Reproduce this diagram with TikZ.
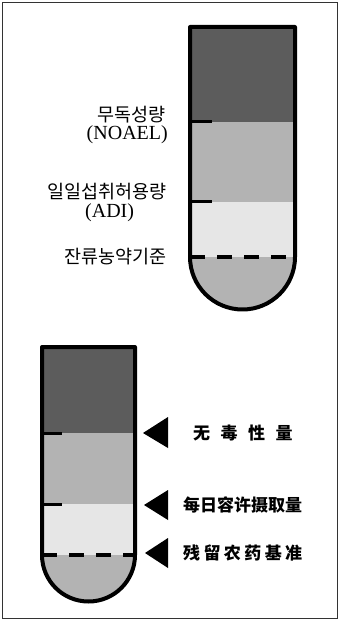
\documentclass[tikz,border=0pt]{standalone}
\usepackage{fontspec}
\setmainfont{Liberation Serif}
\newfontfamily\kor{Noto Sans CJK KR}
\newfontfamily\chn{Noto Sans CJK SC}
\definecolor{darkband}{HTML}{5C5C5C}
\definecolor{midband}{HTML}{B3B3B3}
\definecolor{lightband}{HTML}{E6E6E6}
\definecolor{framecol}{HTML}{333333}
\tikzset{
  wall/.style={line width=4pt, black, line join=round},
  tick/.style={line width=3pt, black},
  levelline/.style={line width=3.5pt, black, dash pattern=on 15pt off 12pt},
  korlabel/.style={inner sep=0pt, font=\kor\fontsize{18.5}{20}\selectfont},
  latlabel/.style={inner sep=0pt, font=\fontsize{20}{21}\selectfont},
  chnlabel/.style={inner sep=0pt, font=\chn\bfseries\fontsize{17}{18}\selectfont},
  pointer/.style={fill=black},
}
\begin{document}
\begin{tikzpicture}[x=1pt,y=-1pt]
\useasboundingbox (0,0) rectangle (339,620);
\draw[framecol, line width=1.5pt] (2.5,2.5) rectangle (337.5,618.5);

% ---- top tube ----
\def\tubeA{(190,27) -- (190,257) arc[start angle=180,end angle=0,radius=52.5] -- (295,27) -- cycle}
\begin{scope}
\clip \tubeA;
\fill[darkband] (185,20) rectangle (300,122);
\fill[midband] (185,122) rectangle (300,202);
\fill[lightband] (185,202) rectangle (300,257);
\fill[midband] (185,257) rectangle (300,320);
\end{scope}
\draw[wall] \tubeA;
\coordinate (a1s) at (188,122); \coordinate (a1e) at (212,122);
\coordinate (a2s) at (188,202); \coordinate (a2e) at (212,202);
\draw[tick] (a1s) -- (a1e);
\draw[tick] (a2s) -- (a2e);
\coordinate (a3s) at (190,257); \coordinate (a3e) at (295,257);
\draw[levelline] (a3s) -- (a3e);

\node[korlabel, anchor=east] (k1) at (166,114.5) {무독성량};
\node[latlabel, anchor=east] (k1b) at (168,135) {(NOAEL)};
\node[korlabel, anchor=east] (k2) at (167,192) {일일섭취허용량};
\node[latlabel, anchor=west] (k2b) at (85,213) {(ADI)};
\node[korlabel, anchor=east] (k3) at (167,257) {잔류농약기준};

% ---- bottom tube ----
\def\tubeB{(42,347) -- (42,555) arc[start angle=180,end angle=0,radius=46.5] -- (135,347) -- cycle}
\begin{scope}
\clip \tubeB;
\fill[darkband] (35,340) rectangle (140,433);
\fill[midband] (35,433) rectangle (140,504);
\fill[lightband] (35,504) rectangle (140,555);
\fill[midband] (35,555) rectangle (140,610);
\end{scope}
\draw[wall] \tubeB;
\coordinate (b1s) at (40,433); \coordinate (b1e) at (62,433);
\coordinate (b2s) at (40,504); \coordinate (b2e) at (62,504);
\draw[tick] (b1s) -- (b1e);
\draw[tick] (b2s) -- (b2e);
\coordinate (b3s) at (42,555); \coordinate (b3e) at (135,555);
\draw[levelline] (b3s) -- (b3e);

% pointers
\fill[pointer] (143,433) -- (168,417) -- (168,448) -- cycle;
\fill[pointer] (144,505) -- (168,490) -- (168,520) -- cycle;
\fill[pointer] (145,553) -- (168,538) -- (168,568) -- cycle;

\node[chnlabel, anchor=west] (c1) at (193,433) {无\hspace{10.5pt}毒\hspace{10.5pt}性\hspace{10.5pt}量};
\node[chnlabel, anchor=west] (c2) at (183,505) {每日容许摄取量};
\node[chnlabel, anchor=west] (c3) at (183,553) {残\hspace{3.4pt}留\hspace{3.4pt}农\hspace{3.4pt}药\hspace{3.4pt}基\hspace{3.4pt}准};
\end{tikzpicture}
\end{document}
